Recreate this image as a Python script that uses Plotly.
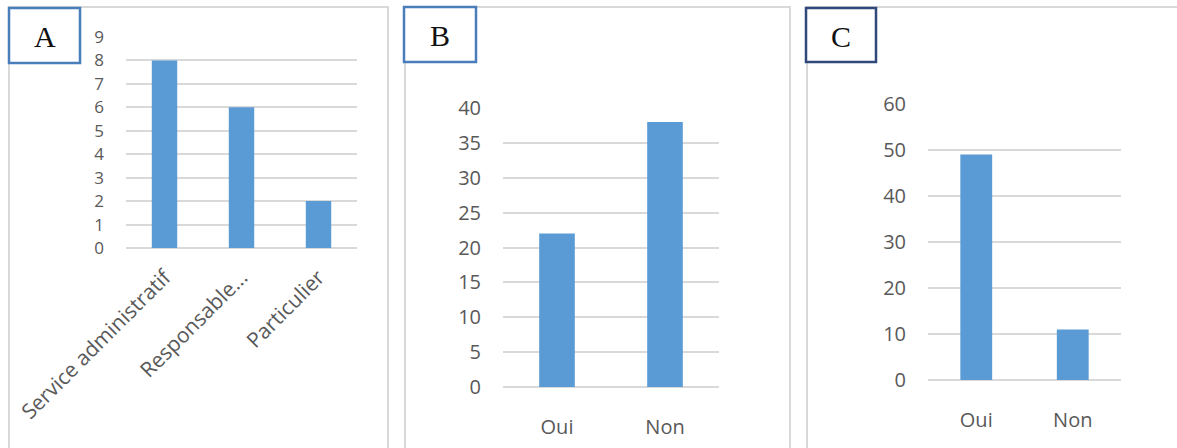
import plotly.graph_objects as go

W, H = 1177, 448

# Panel A: type of requester
cats_a = ["Service administratif", "Responsable...", "Particulier"]
vals_a = [8, 6, 2]

# Panel B
cats_b = ["Oui", "Non"]
vals_b = [22, 38]

# Panel C
cats_c = ["Oui", "Non"]
vals_c = [49, 11]

BAR = "#5B9BD5"
GRID = "#D9D9D9"
TICK = "#595959"
FONT = "Open Sans"


def px_x(x):
    return x / W


def px_y(y):
    return 1 - y / H


fig = go.Figure()

panels = [
    # suffix, cats, vals, x0, x1, ytop, ybot, ymax, dtick, y tick size
    ("", cats_a, vals_a, 126, 357, 37, 248, 9, 1, 17),
    ("2", cats_b, vals_b, 503, 719, 108, 387, 40, 5, 20),
    ("3", cats_c, vals_c, 928, 1121, 104, 380, 60, 10, 20),
]

layout = {}
for i, (sfx, cats, vals, x0, x1, yt, yb, ymax, dt, ysize) in enumerate(panels):
    fig.add_trace(go.Bar(
        x=cats, y=vals, marker=dict(color=BAR, line=dict(width=0)),
        xaxis="x" + sfx, yaxis="y" + sfx, showlegend=False,
        hoverinfo="x+y",
    ))
    xa = dict(
        domain=[px_x(x0), px_x(x1)], anchor="y" + sfx,
        showgrid=False, showline=False, zeroline=False, ticks="",
        tickfont=dict(family=FONT, size=20, color=TICK),
        automargin=False, fixedrange=True,
    )
    if i == 0:
        xa.update(tickangle=-45, ticklabelstandoff=12, tickfont_size=21)
    else:
        xa.update(ticklabelstandoff=26)
    ya = dict(
        domain=[px_y(yb), px_y(yt)], anchor="x" + sfx,
        range=[0, ymax], dtick=dt, tick0=0,
        showgrid=True, gridcolor=GRID, gridwidth=2,
        zeroline=True, zerolinecolor=GRID, zerolinewidth=2,
        showline=False, ticks="",
        tickfont=dict(family=FONT, size=ysize, color=TICK),
        ticklabelstandoff=21,
        automargin=False, fixedrange=True,
    )
    layout["xaxis" + sfx] = xa
    layout["yaxis" + sfx] = ya

fig.update_layout(**layout)
fig.update_layout(bargap=0.67)

shapes = []
# panel frames
for (fx0, fx1) in [(9, 388), (405, 790), (807, 1190)]:
    shapes.append(dict(type="rect", xref="paper", yref="paper",
                       x0=px_x(fx0), x1=px_x(fx1), y0=px_y(460), y1=px_y(7),
                       line=dict(color="#D9D9D9", width=2), fillcolor="rgba(0,0,0,0)",
                       layer="below"))

annotations = []
# letter boxes
boxes = [("A", 9, 80, 8, 63, "#4A7EBB"), ("B", 404, 476, 7, 62, "#4A7EBB"),
         ("C", 806, 876, 8, 62, "#2F4A7A")]
for letter, bx0, bx1, by0, by1, col in boxes:
    shapes.append(dict(type="rect", xref="paper", yref="paper",
                       x0=px_x(bx0), x1=px_x(bx1), y0=px_y(by1), y1=px_y(by0),
                       line=dict(color=col, width=2.5), fillcolor="white"))
    annotations.append(dict(text=letter, xref="paper", yref="paper",
                            x=px_x((bx0 + bx1) / 2), y=px_y((by0 + by1) / 2 + 1),
                            xanchor="center", yanchor="middle", showarrow=False,
                            font=dict(family="Liberation Serif", size=30, color="#111111")))

fig.update_layout(
    width=W, height=H,
    margin=dict(l=0, r=0, t=0, b=0, pad=0, autoexpand=False),
    paper_bgcolor="white", plot_bgcolor="rgba(0,0,0,0)",
    shapes=shapes, annotations=annotations,
)

fig.write_html("out.html", config={"displayModeBar": False})
